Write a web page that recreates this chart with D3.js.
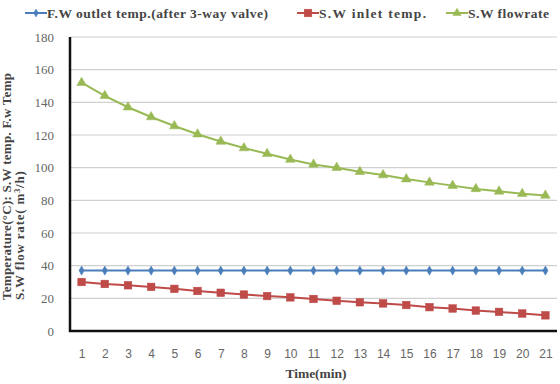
<!DOCTYPE html>
<html>
<head>
<meta charset="utf-8">
<script src="https://cdn.jsdelivr.net/npm/d3@7/dist/d3.min.js"></script>
<style>
  html, body { margin: 0; padding: 0; background: #fff; }
  svg { display: block; }
</style>
</head>
<body>
<div id="chart"></div>
<script>
// data
const times = d3.range(1, 22);
const fwOutlet = [37, 37, 37, 37, 37, 37, 37, 37, 37, 37, 37, 37, 37, 37, 37, 37, 37, 37, 37, 37, 37];
const swInlet = [30, 28.8, 28, 27, 25.8, 24.5, 23.4, 22.3, 21.4, 20.6, 19.6, 18.5, 17.6, 16.9, 15.9, 14.6, 13.8, 12.5, 11.7, 10.7, 9.6];
const swFlow = [152, 144, 137, 131, 125.5, 120.5, 116, 112, 108.5, 105, 102, 100, 97.5, 95.5, 93, 91, 89, 87, 85.5, 84, 83];
const yTicks = [0, 20, 40, 60, 80, 100, 120, 140, 160, 180];

const series = [
    { name: "F.W outlet temp.(after 3-way valve)", values: fwOutlet, color: "#4a7ebb", marker: "diamond" },
    { name: "S.W inlet temp.", values: swInlet, color: "#be4b48", marker: "square" },
    { name: "S.W flowrate", values: swFlow, color: "#98b954", marker: "triangle" }
];

const W = 560, H = 384;
const margin = { top: 37, right: 3, bottom: 53, left: 70 };
const innerW = W - margin.left - margin.right;
const innerH = H - margin.top - margin.bottom;

const svg = d3.select("#chart").append("svg").attr("width", W).attr("height", H);
const g = svg.append("g").attr("transform", `translate(${margin.left},${margin.top})`);

const x = d3.scalePoint().domain(times).range([0, innerW]).padding(0.5);
const y = d3.scaleLinear().domain([0, 180]).range([innerH, 0]);

const serif = "'Liberation Serif', 'Times New Roman', serif";
const sans = "'Liberation Sans', Arial, sans-serif";

// gridlines
g.append("g")
    .selectAll("line")
    .data(yTicks.filter(d => d > 0))
    .join("line")
    .attr("x1", 0).attr("x2", innerW)
    .attr("y1", d => y(d)).attr("y2", d => y(d))
    .attr("stroke", "#d0d0d0").attr("stroke-width", 1.2);

// y axis
const yAxisG = g.append("g")
    .call(d3.axisLeft(y).tickValues(yTicks).tickSize(0).tickPadding(16));
yAxisG.select(".domain").remove();
yAxisG.selectAll("text")
    .attr("font-family", serif).attr("font-size", 13).attr("fill", "#666");

// x axis
const xAxisG = g.append("g").attr("transform", `translate(0,${innerH})`)
    .call(d3.axisBottom(x).tickSize(0).tickPadding(18));
xAxisG.select(".domain").remove();
xAxisG.selectAll("text")
    .attr("font-family", sans).attr("font-size", 12).attr("fill", "#666");

// frame: thick black left and bottom axis
g.append("path")
    .attr("d", `M0,0V${innerH}H${innerW}`)
    .attr("fill", "none").attr("stroke", "#111").attr("stroke-width", 2.5);

// markers
function drawMarker(sel, type, color, size) {
    if (type === "diamond") {
        sel.append("path").attr("d", d3.symbol(d3.symbolDiamond, size * 0.6)())
            .attr("fill", color).attr("stroke", color).attr("stroke-width", 0.5);
    } else if (type === "square") {
        sel.append("rect").attr("x", -3.8).attr("y", -3.8).attr("width", 7.6).attr("height", 7.6)
            .attr("fill", color).attr("stroke", color).attr("stroke-width", 0.5);
    } else {
        sel.append("path").attr("d", d3.symbol(d3.symbolTriangle, size)())
            .attr("fill", color).attr("stroke", color).attr("stroke-width", 0.5);
    }
}

const line = d3.line().x((d, i) => x(times[i])).y(d => y(d));

series.forEach(s => {
    g.append("path")
        .attr("d", line(s.values))
        .attr("fill", "none").attr("stroke", s.color).attr("stroke-width", 2);
    g.append("g").selectAll("g")
        .data(s.values)
        .join("g")
        .attr("transform", (d, i) => `translate(${x(times[i])},${y(d)})`)
        .each(function () { drawMarker(d3.select(this), s.marker, s.color, 40); });
});

// legend (text widths matched to the reference)
const legendItems = [
    { s: series[0], x: 25, w: 221 },
    { s: series[1], x: 297, w: 107 },
    { s: series[2], x: 446, w: 81 }
];
legendItems.forEach(({ s, x: lx, w }) => {
    const lg = svg.append("g").attr("transform", `translate(${lx},13)`);
    lg.append("line").attr("x1", 0).attr("x2", 22).attr("stroke", s.color).attr("stroke-width", 2);
    drawMarker(lg.append("g").attr("transform", "translate(11,0)"), s.marker, s.color, 30);
    lg.append("text").attr("x", 22).attr("y", 4.5)
        .attr("font-family", serif).attr("font-weight", "bold").attr("font-size", 13.5)
        .attr("textLength", w).attr("lengthAdjust", "spacing")
        .attr("fill", "#444").text(s.name);
});

// axis titles
svg.append("text")
    .attr("x", 316).attr("y", 378)
    .attr("text-anchor", "middle")
    .attr("font-family", serif).attr("font-weight", "bold").attr("font-size", 13.5)
    .attr("fill", "#444").text("Time(min)");

const yTitle = svg.append("text")
    .attr("transform", "translate(0,300) rotate(-90)")
    .attr("font-family", serif).attr("font-weight", "bold").attr("font-size", 13)
    .attr("fill", "#444");
yTitle.append("tspan").attr("x", 0).attr("y", 11)
    .attr("textLength", 227).attr("lengthAdjust", "spacing")
    .text("Temperature(°C): S.W temp. F.w Temp");
const l2 = yTitle.append("tspan").attr("x", 0).attr("y", 24)
    .attr("letter-spacing", 0.8).text("S.W flow rate( m");
l2.append("tspan").attr("font-size", 8).attr("dy", -4).text("3");
l2.append("tspan").attr("dy", 4).text("/h)");
</script>
</body>
</html>
